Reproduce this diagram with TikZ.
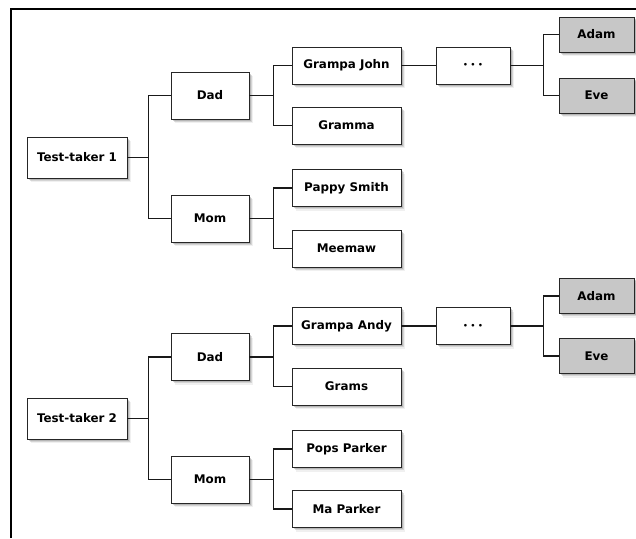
\documentclass[tikz,border=0pt]{standalone}
\usepackage{fontspec}
\setmainfont{DejaVu Sans}
\usetikzlibrary{shadows}
\tikzset{
  person/.style={draw=black!85, line width=0.9pt, fill=white, minimum width=109pt, minimum height=37pt,
    inner sep=0pt, font=\bfseries\fontsize{11.9}{13}\selectfont,
    drop shadow={shadow xshift=1.5pt, shadow yshift=-1.5pt, opacity=.35},
    drop shadow={shadow xshift=2.8pt, shadow yshift=-2.8pt, opacity=.25},
    drop shadow={shadow xshift=4.2pt, shadow yshift=-4.2pt, opacity=.12}},
  root/.style={person, minimum width=100pt, minimum height=41pt},
  parent/.style={person, minimum width=78pt, minimum height=47pt},
  gp/.style={person},
  dotsbox/.style={person, minimum width=74pt},
  first/.style={person, fill=black!22, minimum width=75pt, minimum height=35pt},
  link/.style={line width=1.4pt, black!90},
}
\begin{document}
\begin{tikzpicture}[x=1pt, y=-1pt]
\useasboundingbox (0,0) rectangle (636,538);
\draw[line width=1.3pt] (11,538) -- (11,9) -- (636,9);

% ---- upper tree
\node[root]   (tt1)  at (77,157.5)  {Test-taker 1};
\node[parent] (dad1) at (210,95.5)  {Dad};
\node[parent] (mom1) at (210,218.5) {Mom};
\node[gp] (gj)   at (346.5,65.5)  {Grampa John};
\node[gp] (gm)   at (346.5,125.5) {Gramma};
\node[gp] (ps)   at (346.5,188)   {Pappy Smith};
\node[gp] (mw)   at (346.5,248.5) {Meemaw};
\node[dotsbox] (d1) at (473,65.5) {\fontsize{7.5}{8}\selectfont •\hspace{2.6pt}•\hspace{2.6pt}•};
\node[first] (adam1) at (596.5,34.5) {Adam};
\node[first] (eve1)  at (596.5,95.5) {Eve};

\draw[link] (tt1.east) -- ++(21,0) |- (dad1.west);
\draw[link] (tt1.east) -- ++(21,0) |- (mom1.west);
\draw[link] (dad1.east) -- ++(24,0) |- (gj.west);
\draw[link] (dad1.east) -- ++(24,0) |- (gm.west);
\draw[link] (mom1.east) -- ++(24,0) |- (ps.west);
\draw[link] (mom1.east) -- ++(24,0) |- (mw.west);
\draw[link] (gj.east) -- (d1.west);
\draw[link] (d1.east) -- ++(33,0) |- (adam1.west);
\draw[link] (d1.east) -- ++(33,0) |- (eve1.west);

% ---- lower tree
\node[root]   (tt2)  at (77,418.5)  {Test-taker 2};
\node[parent] (dad2) at (210,357)   {Dad};
\node[parent] (mom2) at (210,479.5) {Mom};
\node[gp] (ga)   at (346.5,326)   {Grampa Andy};
\node[gp] (gr)   at (346.5,386.5) {Grams};
\node[gp] (pp)   at (346.5,449)   {Pops Parker};
\node[gp] (mp)   at (346.5,509)   {Ma Parker};
\node[dotsbox] (d2) at (473,326) {\fontsize{7.5}{8}\selectfont •\hspace{2.6pt}•\hspace{2.6pt}•};
\node[first] (adam2) at (596.5,296) {Adam};
\node[first] (eve2)  at (596.5,356) {Eve};

\draw[link] (tt2.east) -- ++(21,0) |- (dad2.west);
\draw[link] (tt2.east) -- ++(21,0) |- (mom2.west);
\draw[link] (dad2.east) -- ++(24,0) |- (ga.west);
\draw[link] (dad2.east) -- ++(24,0) |- (gr.west);
\draw[link] (mom2.east) -- ++(24,0) |- (pp.west);
\draw[link] (mom2.east) -- ++(24,0) |- (mp.west);
\draw[link] (ga.east) -- (d2.west);
\draw[link] (d2.east) -- ++(33,0) |- (adam2.west);
\draw[link] (d2.east) -- ++(33,0) |- (eve2.west);
\end{tikzpicture}
\end{document}
